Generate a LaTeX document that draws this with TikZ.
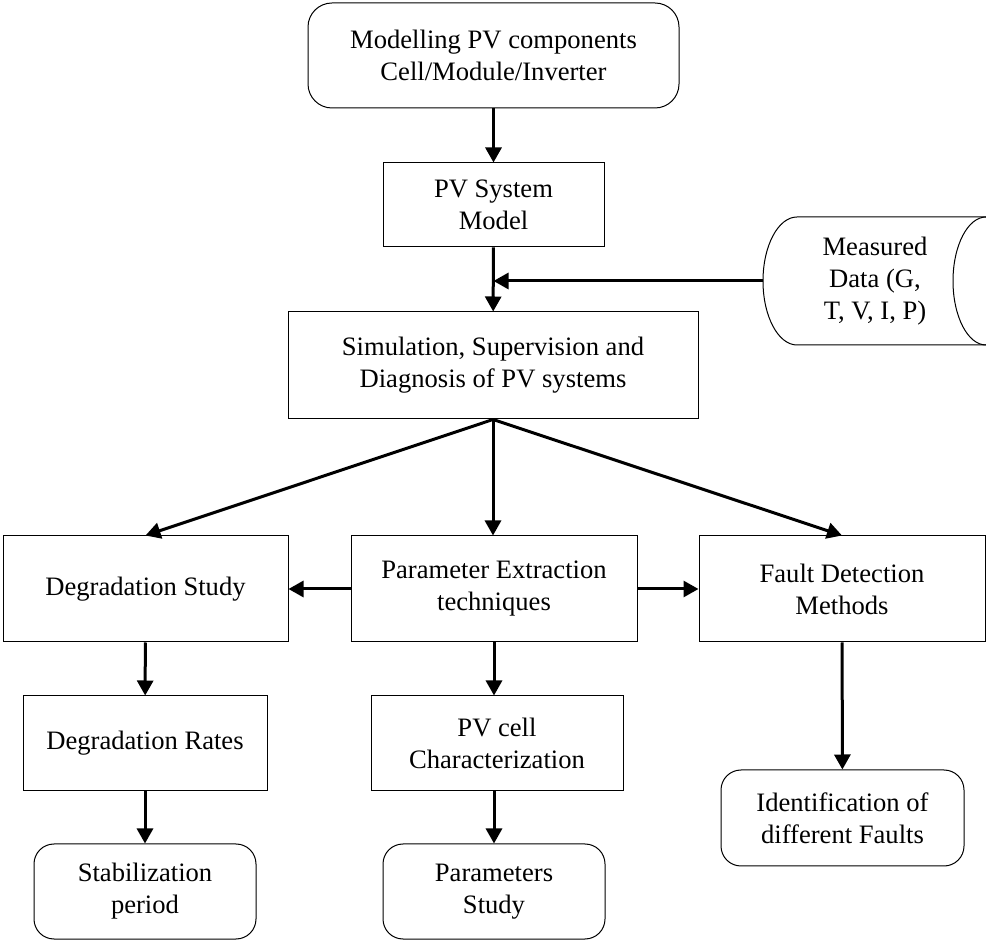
\documentclass[tikz,border=0pt]{standalone}
\usepackage{fontspec}
\setmainfont{Liberation Serif}
\usetikzlibrary{arrows.meta}
\tikzset{
    box/.style={draw, line width=0.5pt, align=center, inner sep=0pt, font=\fontsize{13.3}{16}\selectfont},
    rbox/.style={box, rounded corners=10pt},
    arr/.style={-{Triangle[length=7.5pt, width=8pt]}, line width=1.5pt},
}
\begin{document}
\begin{tikzpicture}[x=0.5pt, y=-0.5pt]
        \useasboundingbox (0, 0) rectangle (986, 940);
        % top row
        \node [rbox, rounded corners=12pt, minimum width=185.5pt, minimum height=52.5pt] (comp) at (493.5, 55.5) {Modelling PV components\\Cell/Module/Inverter};
        \node [box, minimum width=110.5pt, minimum height=42pt] (model) at (493.5, 205) {PV System\\Model};
        \node [box, minimum width=205pt, minimum height=53.5pt] (sim) at (493, 365.5) {Simulation, Supervision and\\Diagnosis of PV systems};
        % measured data (cylinder, cut at the right edge)
        \draw [line width=0.5pt] (986, 217) -- (797, 217) arc [start angle=90, end angle=270, x radius=17pt, y radius=32pt] -- (986, 345);
        \draw [line width=0.5pt] (986, 217) arc [start angle=90, end angle=270, x radius=16.5pt, y radius=32pt];
        \node [align=center, font=\fontsize{13.3}{16}\selectfont] (meas) at (875, 281) {Measured\\Data (G,\\T, V, I, P)};
        \coordinate (measL) at (763, 281);
        % middle row
        \node [box, minimum width=142.5pt, minimum height=53pt] (deg) at (145.5, 589) {Degradation Study};
        \node [box, minimum width=143pt, minimum height=53pt] (param) at (494, 589) {Parameter Extraction\\techniques};
        \node [box, minimum width=143pt, minimum height=53pt] (fault) at (842, 589) {Fault Detection\\Methods};
        % lower rows
        \node [box, minimum width=122pt, minimum height=47.5pt] (rates) at (145, 743.5) {Degradation Rates};
        \node [box, minimum width=126pt, minimum height=47.5pt] (pvcell) at (497, 743.5) {PV cell\\Characterization};
        \node [rbox, minimum width=111pt, minimum height=47.5pt] (stab) at (145, 891.5) {Stabilization\\period};
        \node [rbox, minimum width=111pt, minimum height=47.5pt] (pstudy) at (494, 891.5) {Parameters\\Study};
        \node [rbox, minimum width=121.5pt, minimum height=48pt] (ident) at (842.5, 818) {Identification of\\different Faults};
        % connectors
        \draw [arr] (comp) -- (model);
        \draw [arr] (model) -- (sim);
        \draw [arr] (measL) -- (measL -| model.south);
        \draw [arr] (sim.south) -- (deg.north);
        \draw [arr] (sim.south) -- (sim.south |- param.north);
        \draw [arr] (sim.south) -- (fault.north);
        \draw [arr] (param) -- (deg);
        \draw [arr] (param) -- (fault);
        \draw [arr] (deg) -- (rates);
        \draw [arr] (rates) -- (stab);
        \draw [arr] (param.south) -- (param.south |- pvcell.north);
        \draw [arr] (pstudy.north |- pvcell.south) -- (pstudy);
        \draw [arr] (fault) -- (ident);
    \end{tikzpicture}
\end{document}
